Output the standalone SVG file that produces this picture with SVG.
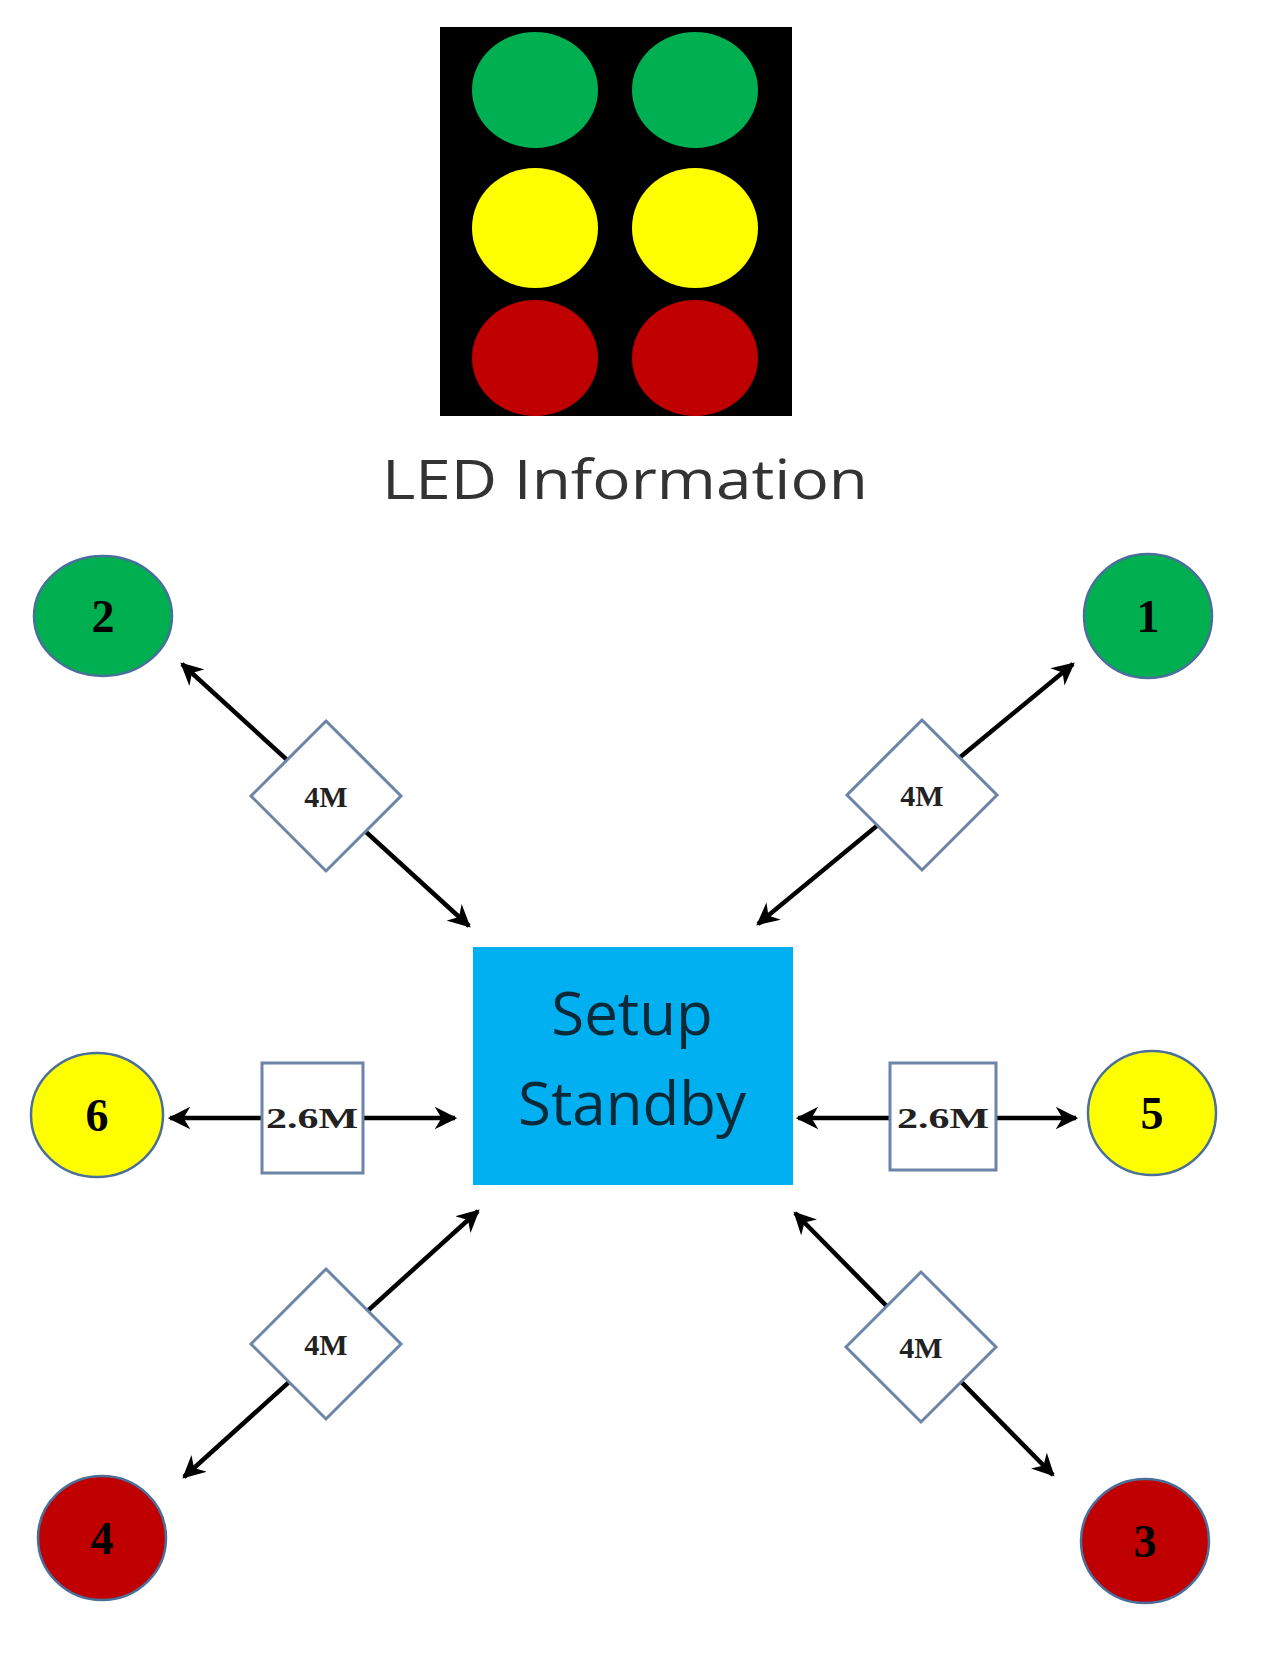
<svg xmlns="http://www.w3.org/2000/svg" width="1261" height="1653" viewBox="0 0 1261 1653">
<defs>
<marker id="ah" viewBox="0 0 10 10" refX="9" refY="5" markerWidth="5" markerHeight="5" orient="auto-start-reverse" markerUnits="strokeWidth"><path d="M0,0 L10,5 L0,10 L3,5 z" fill="#000"/></marker>
</defs>
<style>
.n{stroke:#4a6f9a;stroke-width:2.5}
.g{fill:#00b050}.y{fill:#ffff00}.r{fill:#c00000}
.nt{font-family:"Liberation Serif",serif;font-weight:bold;font-size:46px;text-anchor:middle;fill:#000}
.c{stroke:#000;stroke-width:4.5;fill:none;marker-start:url(#ah);marker-end:url(#ah)}
.lb{fill:#fff;stroke:#6b84a8;stroke-width:3}
.lt{font-family:"Liberation Serif",serif;font-weight:bold;font-size:30px;text-anchor:middle;fill:#222}
</style>
<rect width="1261" height="1653" fill="#fff"/>
<g id="led">
<rect x="440" y="27" width="352" height="389" fill="#000"/>
<ellipse cx="535" cy="90" rx="63" ry="58" class="g"/>
<ellipse cx="695" cy="90" rx="63" ry="58" class="g"/>
<ellipse cx="535" cy="228" rx="63" ry="60" class="y"/>
<ellipse cx="695" cy="228" rx="63" ry="60" class="y"/>
<ellipse cx="535" cy="358" rx="63" ry="58" class="r"/>
<ellipse cx="695" cy="358" rx="63" ry="58" class="r"/>
<text x="625" y="499" font-family="Open Sans, sans-serif" font-size="54" fill="#333" text-anchor="middle" textLength="486" lengthAdjust="spacingAndGlyphs">LED Information</text>
</g>
<g id="connectors">
<line class="c" x1="182" y1="664" x2="469" y2="926"/>
<line class="c" x1="1073" y1="664" x2="758" y2="924"/>
<line class="c" x1="170" y1="1118" x2="455" y2="1118"/>
<line class="c" x1="798" y1="1118" x2="1076" y2="1118"/>
<line class="c" x1="478" y1="1211" x2="184" y2="1477"/>
<line class="c" x1="795" y1="1213" x2="1053" y2="1475"/>
</g>
<g id="labels">
<g id="l2"><polygon class="lb" points="326,721 401,796 326,871 251,796"/><text class="lt" x="326" y="807">4M</text></g>
<g id="l1"><polygon class="lb" points="922,720 997,795 922,870 847,795"/><text class="lt" x="922" y="806">4M</text></g>
<g id="l6"><rect class="lb" x="262" y="1063" width="101" height="110"/><text class="lt" x="312" y="1128" font-size="26" textLength="92" lengthAdjust="spacingAndGlyphs">2.6M</text></g>
<g id="l5"><rect class="lb" x="890" y="1063" width="106" height="107"/><text class="lt" x="943" y="1128" font-size="26" textLength="92" lengthAdjust="spacingAndGlyphs">2.6M</text></g>
<g id="l4"><polygon class="lb" points="326,1269 401,1344 326,1419 251,1344"/><text class="lt" x="326" y="1355">4M</text></g>
<g id="l3"><polygon class="lb" points="921,1272 996,1347 921,1422 846,1347"/><text class="lt" x="921" y="1358">4M</text></g>
</g>
<g id="center">
<rect x="473" y="947" width="320" height="238" fill="#00b0f0"/>
<text x="632" y="1035" font-family="Open Sans, sans-serif" font-size="60" fill="#0a2a3a" text-anchor="middle">Setup</text>
<text x="632" y="1125" font-family="Open Sans, sans-serif" font-size="60" fill="#0a2a3a" text-anchor="middle">Standby</text>
</g>
<g id="n2"><ellipse class="n g" cx="103" cy="616" rx="69" ry="60"/><text class="nt" x="103" y="632">2</text></g>
<g id="n1"><ellipse class="n g" cx="1148" cy="616" rx="64" ry="62"/><text class="nt" x="1148" y="632">1</text></g>
<g id="n6"><ellipse class="n y" cx="97" cy="1115" rx="66" ry="62"/><text class="nt" x="97" y="1131">6</text></g>
<g id="n5"><ellipse class="n y" cx="1152" cy="1113" rx="64" ry="62"/><text class="nt" x="1152" y="1129">5</text></g>
<g id="n4"><ellipse class="n r" cx="102" cy="1538" rx="64" ry="62"/><text class="nt" x="102" y="1554">4</text></g>
<g id="n3"><ellipse class="n r" cx="1145" cy="1541" rx="64" ry="62"/><text class="nt" x="1145" y="1557">3</text></g>
</svg>
